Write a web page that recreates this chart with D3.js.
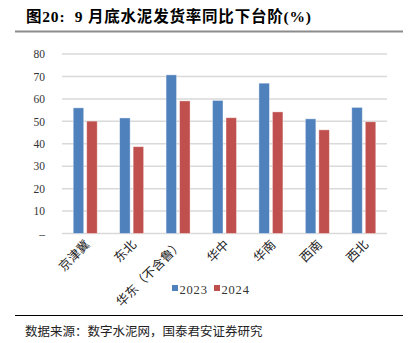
<!DOCTYPE html>
<html><head><meta charset="utf-8">
<script src="https://cdn.jsdelivr.net/npm/d3@7/dist/d3.min.js"></script>
<style>body{margin:0;background:#fff}svg{display:block}</style>
</head><body>
<svg id="c" width="417" height="343"></svg>
<script>
const categories = ["京津冀","东北","华东（不含鲁）","华中","华南","西南","西北"];
const seriesNames = ["2023","2024"];
const values2023 = [56, 51.5, 70.7, 59.3, 67, 51.1, 56.2];
const values2024 = [50.1, 38.7, 59.1, 51.6, 54.2, 46.2, 49.8];
const yTicks = [0,10,20,30,40,50,60,70,80];
const colors = ["#4F81BD","#C0504D"];

const svg = d3.select("#c");
const cjk = "'Noto Sans CJK SC','Noto Sans',sans-serif";
const serif = "'Liberation Serif','DejaVu Serif',serif";
const mixed = "'Liberation Serif','Noto Sans CJK SC',serif";

// title
svg.append("text").attr("x",26).attr("y",22).attr("font-family",mixed).attr("font-weight","bold")
  .attr("font-size",15.5).attr("fill","#000").style("white-space","pre").attr("letter-spacing",0.8)
  .text("图20:  9 月底水泥发货率同比下台阶(%)");
svg.append("line").attr("x1",15).attr("x2",403).attr("y1",31.5).attr("y2",31.5)
  .attr("stroke","#8c8c8c").attr("stroke-width",2);

const x0 = d3.scaleBand().domain(categories).range([62,387]).paddingInner(0).paddingOuter(0);
const y = d3.scaleLinear().domain([0,80]).range([233.5,54]);

// grid
const g = svg.append("g");
g.selectAll("line.grid").data(yTicks).join("line").attr("class","grid")
  .attr("x1",62).attr("x2",387).attr("y1",d=>y(d)).attr("y2",d=>y(d))
  .attr("stroke","#d9d9d9").attr("stroke-width",1.5);

// y axis labels
const yAxis = d3.axisLeft(y).tickValues(yTicks).tickSize(0).tickPadding(17)
  .tickFormat(d=> d===0 ? "–" : d3.format("d")(d));
const ya = svg.append("g").attr("transform","translate(62,0)").call(yAxis);
ya.select(".domain").remove();
ya.selectAll("text").attr("font-family",serif).attr("font-size",11.5).attr("fill","#333");

// bars
const barW = 10.5, gap = 3;
const data = categories.map((c,i)=>({c, v:[values2023[i], values2024[i]]}));
data.forEach(d=>{
  const cx = x0(d.c) + x0.bandwidth()/2;
  d.v.forEach((v,j)=>{
    const bx = j===0 ? cx - gap/2 - barW : cx + gap/2;
    svg.append("rect").attr("x",bx).attr("y",y(v)).attr("width",barW).attr("height",y(0)-y(v))
      .attr("fill",colors[j]).attr("stroke","#fff").attr("stroke-opacity",0.5).attr("stroke-width",0.8);
  });
});

// x labels rotated
const xa = svg.append("g");
categories.forEach(c=>{
  const cx = x0(c) + x0.bandwidth()/2 + 3;
  xa.append("text").attr("transform",`translate(${cx},243) rotate(-45)`)
    .attr("text-anchor","end").attr("dominant-baseline","middle")
    .attr("font-family",cjk).attr("font-size",12.5).attr("fill","#222").text(c);
});

// legend
const leg = svg.append("g");
[[172,"2023"],[214,"2024"]].forEach(([lx,t],i)=>{
  leg.append("rect").attr("x",lx).attr("y",285).attr("width",6).attr("height",6).attr("fill",colors[i]);
  leg.append("text").attr("x",lx+7.5).attr("y",293.5).attr("font-family",serif).attr("font-size",12.5)
    .attr("fill","#333").attr("letter-spacing",0.8).text(t);
});

// bottom
svg.append("line").attr("x1",15).attr("x2",403).attr("y1",315.5).attr("y2",315.5)
  .attr("stroke","#000").attr("stroke-width",1);
svg.append("text").attr("x",25).attr("y",336).attr("font-family",cjk).attr("font-size",12.5)
  .attr("fill","#222").text("数据来源：数字水泥网，国泰君安证券研究");
</script>
</body></html>
